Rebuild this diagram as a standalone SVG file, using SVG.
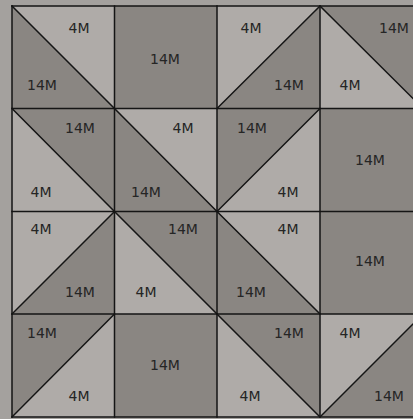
<svg xmlns="http://www.w3.org/2000/svg" width="413" height="419" viewBox="0 0 413 419">
<style>
.l{fill:#afaba8}
.d{fill:#8a8682}
text{font-family:"DejaVu Sans","Liberation Sans",sans-serif;font-size:14px;fill:#252525;text-anchor:middle}
.ln{stroke:#151515;stroke-width:1.5;fill:none;stroke-linecap:square}
</style>
<rect width="413" height="419" fill="#a4a19e"/>
<g id="c00"><polygon class="l" points="12,6 114.5,6 114.5,108.5"/><polygon class="d" points="12,6 114.5,108.5 12,108.5"/><text x="79" y="33">4M</text><text x="42" y="90">14M</text></g>
<g id="c01"><rect class="d" x="114.5" y="6" width="102.5" height="102.5"/><text x="165" y="64">14M</text></g>
<g id="c02"><polygon class="l" points="217,6 320,6 217,108.5"/><polygon class="d" points="320,6 320,108.5 217,108.5"/><text x="251" y="33">4M</text><text x="289" y="90">14M</text></g>
<g id="c03"><polygon class="d" points="320,6 423,6 423,108.5"/><polygon class="l" points="320,6 423,108.5 320,108.5"/><text x="350" y="90">4M</text><text x="394" y="33">14M</text></g>
<g id="c10"><polygon class="d" points="12,108.5 114.5,108.5 114.5,211.5"/><polygon class="l" points="12,108.5 114.5,211.5 12,211.5"/><text x="80" y="133">14M</text><text x="41" y="197">4M</text></g>
<g id="c11"><polygon class="l" points="114.5,108.5 217,108.5 217,211.5"/><polygon class="d" points="114.5,108.5 217,211.5 114.5,211.5"/><text x="183" y="133">4M</text><text x="146" y="197">14M</text></g>
<g id="c12"><polygon class="d" points="217,108.5 320,108.5 217,211.5"/><polygon class="l" points="320,108.5 320,211.5 217,211.5"/><text x="252" y="133">14M</text><text x="288" y="197">4M</text></g>
<g id="c13"><rect class="d" x="320" y="108.5" width="103" height="103"/><text x="370" y="165">14M</text></g>
<g id="c20"><polygon class="l" points="12,211.5 114.5,211.5 12,314"/><polygon class="d" points="114.5,211.5 114.5,314 12,314"/><text x="41" y="234">4M</text><text x="80" y="297">14M</text></g>
<g id="c21"><polygon class="d" points="114.5,211.5 217,211.5 217,314"/><polygon class="l" points="114.5,211.5 217,314 114.5,314"/><text x="183" y="234">14M</text><text x="146" y="297">4M</text></g>
<g id="c22"><polygon class="l" points="217,211.5 320,211.5 320,314"/><polygon class="d" points="217,211.5 320,314 217,314"/><text x="288" y="234">4M</text><text x="251" y="297">14M</text></g>
<g id="c23"><rect class="d" x="320" y="211.5" width="103" height="102.5"/><text x="370" y="266">14M</text></g>
<g id="c30"><polygon class="d" points="12,314 114.5,314 12,417"/><polygon class="l" points="114.5,314 114.5,417 12,417"/><text x="42" y="338">14M</text><text x="79" y="401">4M</text></g>
<g id="c31"><rect class="d" x="114.5" y="314" width="102.5" height="103"/><text x="165" y="370">14M</text></g>
<g id="c32"><polygon class="d" points="217,314 320,314 320,417"/><polygon class="l" points="217,314 320,417 217,417"/><text x="289" y="338">14M</text><text x="250" y="401">4M</text></g>
<g id="c33"><polygon class="l" points="320,314 423,314 320,417"/><polygon class="d" points="423,314 423,417 320,417"/><text x="350" y="338">4M</text><text x="389" y="401">14M</text></g>
<g id="lines" class="ln">
<path d="M12,6H423M12,108.5H423M12,211.5H423M12,314H423M12,417H423"/>
<path d="M12,6V417M114.5,6V417M217,6V417M320,6V417"/>
<path d="M12,6L114.5,108.5M217,108.5L320,6M320,6L423,108.5"/>
<path d="M12,108.5L114.5,211.5M114.5,108.5L217,211.5M217,211.5L320,108.5"/>
<path d="M12,314L114.5,211.5M114.5,211.5L217,314M217,211.5L320,314"/>
<path d="M12,417L114.5,314M217,314L320,417M320,417L423,314"/>
</g>
</svg>
